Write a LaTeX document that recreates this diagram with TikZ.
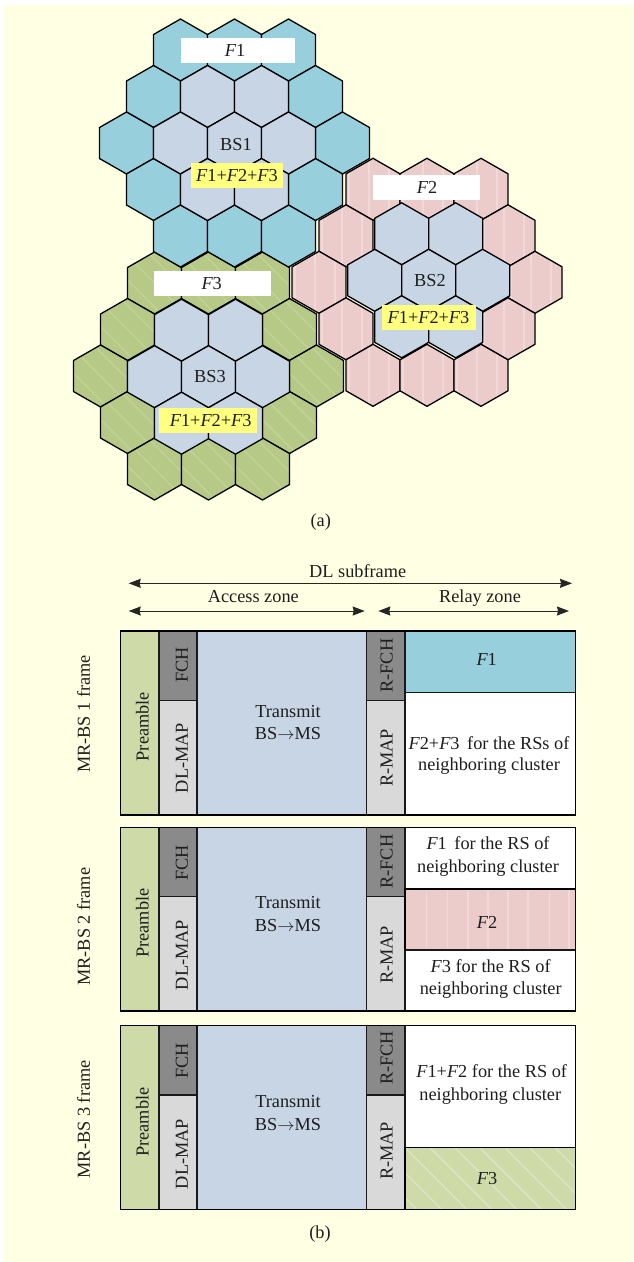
\documentclass[tikz,border=0pt]{standalone}
\usepackage{fontspec}
\setmainfont{Liberation Serif}
\usetikzlibrary{arrows.meta}
\definecolor{bgcream}{HTML}{FFFFE3}
\definecolor{hexblue}{HTML}{97CFDD}
\definecolor{hexinner}{HTML}{C8D5E5}
\definecolor{hexpink}{HTML}{ECCBCB}
\definecolor{hexgreen}{HTML}{B6C986}
\definecolor{stripepink}{HTML}{F2D9D9}
\definecolor{stripegreen}{HTML}{C3D39B}
\definecolor{bandgreen}{HTML}{CEDBA9}
\definecolor{stripeband}{HTML}{DEE7C5}
\definecolor{greyfch}{HTML}{8A8A8A}
\definecolor{greymap}{HTML}{D9D9D9}
\definecolor{labelyellow}{HTML}{FFFF80}
\definecolor{inkcol}{HTML}{1E1E1E}
\tikzset{
  hexline/.style={draw=black,line width=1.3pt,line join=round},
  cellline/.style={draw=black!90,line width=1.3pt},
  lbl/.style={inner sep=0pt,outer sep=0pt,text=inkcol,text height=11.7pt,text depth=0pt,
    font=\fontsize{18.3}{21}\selectfont},
  vlbl/.style={lbl,rotate=90},
  dimarrow/.style={line width=1pt,draw=black!85,{Stealth[length=12pt,width=9pt,inset=1pt]}-{Stealth[length=12pt,width=9pt,inset=1pt]}},
}
\newcommand\hexpath{(0,-31)--(27,-15.5)--(27,15.5)--(0,31)--(-27,15.5)--(-27,-15.5)--cycle}
\newcommand\hexstripesblue{}
\newcommand\hexstripesinner{}
\newcommand\hexstripespink{\foreach \s in {-24,-4,16}{\draw[stripepink,line width=1.5pt] (\s,-32)--(\s,32);}}
\newcommand\hexstripesgreen{\foreach \s in {-72,-48,...,72}{\draw[stripegreen,line width=1.2pt] (\s-40,-40)--(\s+40,40);}}
% x, y, kind
\newcommand\cellhex[3]{%
  \begin{scope}[shift={(#1,#2)}]
    \begin{scope}
      \clip \hexpath;
      \fill[hex#3] (-30,-33) rectangle (30,33);
      \csname hexstripes#3\endcsname
    \end{scope}
    \draw[hexline] \hexpath;
  \end{scope}}
% cx, cy, kind, inner dx, inner dy
\newcommand\hexcluster[5]{%
  \foreach \a/\b in {-54/-93,0/-93,54/-93,-81/-46.5,81/-46.5,-108/0,108/0,-81/46.5,81/46.5,-54/93,0/93,54/93}{\cellhex{#1+\a}{#2+\b}{#3}}
  \foreach \a/\b in {-27/-46.5,27/-46.5,-54/0,0/0,54/0,-27/46.5,27/46.5}{\cellhex{#1+#4+\a}{#2+#5+\b}{inner}}}
% top, split, bottom : the left columns of one frame
\newcommand\framecols[3]{%
  \filldraw[cellline,fill=bandgreen] (120.7,#1) rectangle (159,#3);
  \filldraw[cellline,fill=greyfch] (159,#1) rectangle (197,#2);
  \filldraw[cellline,fill=greymap] (159,#2) rectangle (197,#3);
  \filldraw[cellline,fill=hexinner] (197,#1) rectangle (366.7,#3);
  \filldraw[cellline,fill=greyfch] (366.7,#1) rectangle (405,#2);
  \filldraw[cellline,fill=greymap] (366.7,#2) rectangle (405,#3);}
\newcommand\ital[1]{{\itshape #1}}
\newcommand\bsms{BS$\rightarrow$MS}
\begin{document}
\begin{tikzpicture}[x=1pt,y=-1pt]
\useasboundingbox (0,0) rectangle (633,1262);
\fill[bgcream] (3,4.7) rectangle (633,1262);

% clusters
\hexcluster{208.5}{376}{green}{0}{0.7}
\hexcluster{427}{282.3}{pink}{1.7}{-2}
\hexcluster{234.5}{143}{blue}{0}{0}

% cluster labels
\fill[white] (181,38) rectangle (295,62.7);
\fill[white] (372.7,175) rectangle (480,200);
\fill[white] (154,271) rectangle (271,295.7);
\fill[labelyellow] (191,163) rectangle (283,188);
\fill[labelyellow] (381.7,305) rectangle (475.7,330);
\fill[labelyellow] (159,407.7) rectangle (257,433);
\node[lbl] (lf1) at (235,50.3) {\ital{F}1};
\node[lbl] (lf2) at (427,187.3) {\ital{F}2};
\node[lbl] (lf3) at (211.7,283.3) {\ital{F}3};
\node[lbl] (bs1) at (236,145) {BS1};
\node[lbl] (bs2) at (430,281) {BS2};
\node[lbl] (bs3) at (210,377) {BS3};
\node[lbl] (y1) at (237,176) {\ital{F}1+\ital{F}2+\ital{F}3};
\node[lbl] (y2) at (428.5,318) {\ital{F}1+\ital{F}2+\ital{F}3};
\node[lbl] (y3) at (210.7,420.7) {\ital{F}1+\ital{F}2+\ital{F}3};
\node[lbl] (capa) at (320.7,520.7) {(a)};

% dimension arrows
\coordinate (dlL) at (128.7,583.3); \coordinate (dlR) at (572,583.3);
\coordinate (acL) at (128.7,611); \coordinate (acR) at (364.7,611);
\coordinate (reL) at (378.3,611); \coordinate (reR) at (569,611);
\draw[dimarrow] (dlL) -- (dlR);
\draw[dimarrow] (acL) -- (acR);
\draw[dimarrow] (reL) -- (reR);
\node[lbl] (dl) at (357.7,572) {DL subframe};
\node[lbl] (ac) at (253.3,597) {Access zone};
\node[lbl] (re) at (480,597) {Relay zone};

% frame 1
\framecols{631}{700.7}{815}
\filldraw[cellline,fill=hexblue] (405,631) rectangle (575.7,692.3);
\filldraw[cellline,fill=white] (405,692.3) rectangle (575.7,815);
\draw[line width=1.5pt] (120.7,631) rectangle (575.7,815);
% frame 2
\framecols{827.3}{896.7}{1011}
\filldraw[cellline,fill=white] (405,827.3) rectangle (575.7,889);
\begin{scope}
  \clip (405,889) rectangle (575.7,950);
  \fill[hexpink] (405,889) rectangle (575.7,950);
  \foreach \s in {426.7,447.7,468,488,508,528,549.5,569}{\draw[stripepink,line width=1.5pt] (\s,889)--(\s,950);}
\end{scope}
\draw[line width=1.4pt] (405,889) rectangle (575.7,950);
\filldraw[cellline,fill=white] (405,950) rectangle (575.7,1011);
\draw[line width=1.5pt] (120.7,827.3) rectangle (575.7,1011);
% frame 3
\framecols{1025.3}{1095}{1209.3}
\filldraw[cellline,fill=white] (405,1025.3) rectangle (575.7,1147.7);
\begin{scope}
  \clip (405,1147.7) rectangle (575.7,1209.3);
  \fill[bandgreen] (405,1147.7) rectangle (575.7,1209.3);
  \foreach \s in {330,355,...,580}{\draw[stripeband,line width=1.2pt] (\s,1147.7)--(\s+61.6,1209.3);}
\end{scope}
\draw[line width=1.4pt] (405,1147.7) rectangle (575.7,1209.3);
\draw[line width=1.5pt] (120.7,1025.3) rectangle (575.7,1209.3);

% frame texts
\node[vlbl] (mr1) at (84,714) {MR-BS 1 frame};
\node[vlbl] (mr2) at (84,926.7) {MR-BS 2 frame};
\node[vlbl] (mr3) at (84,1119.3) {MR-BS 3 frame};
\node[vlbl] (pre1) at (142.7,726.7) {Preamble};
\node[vlbl] (pre2) at (142.7,923) {Preamble};
\node[vlbl] (pre3) at (142.7,1122) {Preamble};
\node[vlbl] (fch1) at (182,665) {FCH};
\node[vlbl] (fch2) at (182,862.7) {FCH};
\node[vlbl] (fch3) at (182,1060.7) {FCH};
\node[vlbl] (map1) at (182,758) {DL-MAP};
\node[vlbl] (map2) at (182,955) {DL-MAP};
\node[vlbl] (map3) at (182,1154) {DL-MAP};
\node[vlbl] (rf1) at (386.7,665.7) {R-FCH};
\node[vlbl] (rf2) at (386.7,861.7) {R-FCH};
\node[vlbl] (rf3) at (386.7,1058) {R-FCH};
\node[vlbl] (rm1) at (386.7,758) {R-MAP};
\node[vlbl] (rm2) at (386.7,955) {R-MAP};
\node[vlbl] (rm3) at (386.7,1151) {R-MAP};
\node[lbl] (t1a) at (288,712) {Transmit};
\node[lbl] (t1b) at (288,734) {\bsms};
\node[lbl] (t2a) at (288,903) {Transmit};
\node[lbl] (t2b) at (288,926) {\bsms};
\node[lbl] (t3a) at (288,1102) {Transmit};
\node[lbl] (t3b) at (288,1125) {\bsms};
\node[lbl] (a1) at (486.7,660) {\ital{F}1};
\node[lbl] (a2) at (489,744) {\ital{F}2+\ital{F}3\ \,for the RSs of};
\node[lbl] (a3) at (489,765) {neighboring cluster};
\node[lbl] (b1) at (488,844) {\ital{F}1\ \,for the RS of};
\node[lbl] (b2) at (488,866.7) {neighboring cluster};
\node[lbl] (b3) at (487,923) {\ital{F}2};
\node[lbl] (b4) at (490.7,967) {\ital{F}3 for the RS of};
\node[lbl] (b5) at (490.7,989) {neighboring cluster};
\node[lbl] (c1) at (491.7,1071.7) {\ital{F}1+\ital{F}2 for the RS of};
\node[lbl] (c2) at (490.3,1094.3) {neighboring cluster};
\node[lbl] (c3) at (487,1179) {\ital{F}3};
\node[lbl] (capb) at (320,1233) {(b)};
\end{tikzpicture}
\end{document}
